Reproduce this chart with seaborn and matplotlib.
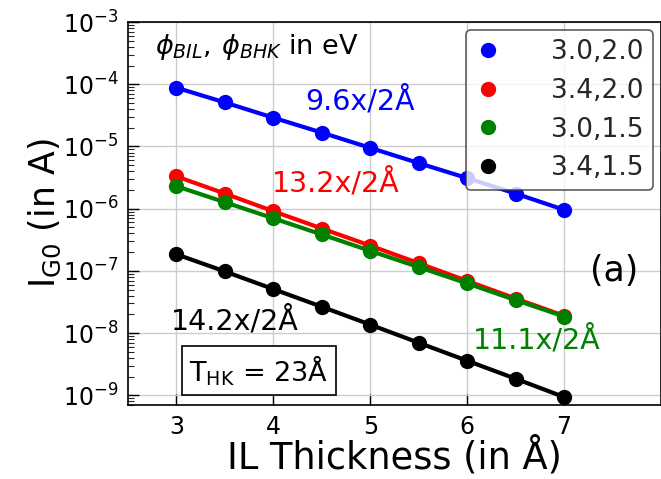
import numpy as np
import pandas as pd
import matplotlib
matplotlib.use("Agg")
import matplotlib.pyplot as plt
import seaborn as sns
from matplotlib.ticker import LogLocator, NullFormatter

thickness = [3.0, 3.5, 4.0, 4.5, 5.0, 5.5, 6.0, 6.5, 7.0]
series_labels = ["3.0,2.0", "3.4,2.0", "3.0,1.5", "3.4,1.5"]
series_colors = ["blue", "red", "green", "black"]
ig_30_20 = [8.8e-5, 5.1e-5, 2.9e-5, 1.67e-5, 9.5e-6, 5.4e-6, 3.1e-6, 1.75e-6, 9.6e-7]
ig_34_20 = [3.3e-6, 1.75e-6, 9.1e-7, 4.8e-7, 2.55e-7, 1.33e-7, 6.9e-8, 3.6e-8, 1.9e-8]
ig_30_15 = [2.3e-6, 1.27e-6, 7.0e-7, 3.85e-7, 2.1e-7, 1.15e-7, 6.3e-8, 3.4e-8, 1.85e-8]
ig_34_15 = [1.85e-7, 9.8e-8, 5.1e-8, 2.65e-8, 1.37e-8, 7.0e-9, 3.6e-9, 1.85e-9, 9.4e-10]
slope_texts = ["9.6x/2Å", "13.2x/2Å", "11.1x/2Å", "14.2x/2Å"]

df = pd.concat([
    pd.DataFrame({"x": thickness, "y": vals, "s": lab})
    for vals, lab in zip([ig_30_20, ig_34_20, ig_30_15, ig_34_15], series_labels)
])

sns.set_theme(style="whitegrid")
plt.rcParams["font.family"] = ["DejaVu Sans"]
plt.rcParams["mathtext.fontset"] = "dejavusans"

fig = plt.figure(figsize=(6.61, 4.79), dpi=100)
ax = fig.add_axes([0.1936, 0.1545, 0.8064, 0.7995])

palette = dict(zip(series_labels, series_colors))
sns.lineplot(data=df, x="x", y="y", hue="s", palette=palette, hue_order=series_labels,
             marker="o", markersize=11, markeredgewidth=0, linewidth=3, ax=ax,
             legend=False)
ax.set_yscale("log")
ax.set_xlim(2.5, 8.0)
ax.set_ylim(7e-10, 1e-3)
ax.set_xticks([3, 4, 5, 6, 7])
ax.yaxis.set_major_locator(LogLocator(base=10, numticks=20))
ax.yaxis.set_minor_locator(LogLocator(base=10, subs=np.arange(2, 10), numticks=100))
ax.yaxis.set_minor_formatter(NullFormatter())

ax.grid(True, which="major", color="#cccccc", linewidth=1)
for sp in ax.spines.values():
    sp.set_edgecolor("black")
    sp.set_linewidth(1.2)
ax.tick_params(axis="both", which="major", direction="in", length=8, width=1,
               labelsize=17, colors="black", left=True, bottom=True, pad=7)
ax.tick_params(axis="y", which="minor", direction="in", length=4, width=0.8, left=True)

ax.set_xlabel("IL Thickness (in Å)", fontsize=26.5, color="black", labelpad=-1)
ax.set_ylabel(r"I$_{\rm G0}$ (in A)", fontsize=25, color="black", labelpad=0)

# legend with markers only
handles = [plt.Line2D([], [], marker="o", linestyle="none", color=c, markersize=10)
           for c in series_colors]
leg = ax.legend(handles, series_labels, loc="upper right", fontsize=19,
                frameon=True, fancybox=True, edgecolor="#333333", framealpha=0.8,
                handletextpad=1.9, borderaxespad=0.3, labelspacing=0.48,
                handlelength=1.0, borderpad=0.35)
leg.get_frame().set_linewidth(1.2)

ax.text(0.05, 0.935, r"$\phi_{BIL},\,\phi_{BHK}$ in eV", transform=ax.transAxes,
        fontsize=19.5, va="center", ha="left", color="black")
ax.text(4.33, 10**-4.26, slope_texts[0], color="blue", fontsize=20.5, va="center")
ax.text(3.99, 10**-5.58, slope_texts[1], color="red", fontsize=20.5, va="center")
ax.text(6.06, 10**-8.1, slope_texts[2], color="green", fontsize=20.5, va="center")
ax.text(2.94, 10**-7.8, slope_texts[3], color="black", fontsize=20.5, va="center")
ax.text(7.27, 10**-7.0, "(a)", color="black", fontsize=25, va="center")
ax.text(3.13, 10**-8.6, r"T$_{\rm HK}$ = 23Å", color="black", fontsize=19.5, va="center",
        bbox=dict(boxstyle="square,pad=0.27", facecolor="white", edgecolor="black", linewidth=1.2))

fig.savefig("out.png", dpi=100)
